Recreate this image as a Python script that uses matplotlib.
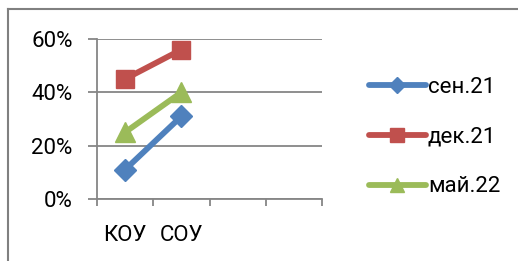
import matplotlib.pyplot as plt
from matplotlib.lines import Line2D

categories = ["КОУ", "СОУ", "", ""]
series_names = ["сен.21", "дек.21", "май.22"]
sen21 = [0.11, 0.31]
dek21 = [0.45, 0.56]
may22 = [0.25, 0.40]
y_ticks = [0.0, 0.2, 0.4, 0.6]
y_labels = ["0%", "20%", "40%", "60%"]

colors = ["#4F81BD", "#C0504D", "#9BBB59"]
markers = [("D", 11), ("s", 13.5), ("^", 14)]

plt.rcParams["font.family"] = ["Roboto", "DejaVu Sans"]

fig = plt.figure(figsize=(5.18, 2.61), dpi=100)
ax = fig.add_axes([0.187, 0.2375, 0.435, 0.6131])

values = [sen21, dek21, may22]
for vals, name, col, (mk, ms) in zip(values, series_names, colors, markers):
    x = list(range(len(vals)))
    ax.plot(x, vals, color=col, lw=4.2, marker=mk, markersize=ms,
            solid_capstyle="round", label=name, clip_on=False)

ax.set_xlim(-0.5, len(categories) - 0.5)
ax.set_ylim(0, 0.6)
ax.set_yticks(y_ticks)
ax.set_yticklabels(y_labels, fontsize=16)
ax.set_xticks([i - 0.5 for i in range(len(categories) + 1)])
ax.set_xticklabels([])
ax.set_xticks(range(len(categories)), minor=True)
ax.set_xticklabels(categories, minor=True, fontsize=16)
ax.tick_params(axis="x", which="major", length=5, width=1.3, color="#868686")
ax.tick_params(axis="x", which="minor", length=0, pad=19)
ax.tick_params(axis="y", length=6.5, width=1.3, color="#868686", pad=11)

ax.grid(axis="y", color="#868686", lw=1.3)
ax.set_axisbelow(True)
for side in ["top", "right"]:
    ax.spines[side].set_visible(False)
ax.spines["left"].set_color("#868686")
ax.spines["left"].set_linewidth(1.3)
ax.spines["bottom"].set_color("#868686")
ax.spines["bottom"].set_linewidth(1.3)

handles = [Line2D([], [], color=c, lw=4.2, marker=mk, markersize=ms * 0.75, solid_capstyle="round")
           for c, (mk, ms) in zip(colors, markers)]
fig.legend(handles, series_names, loc="center left", bbox_to_anchor=(0.695, 0.475),
           frameon=False, fontsize=16, handlelength=2.55, handletextpad=0.1,
           labelspacing=1.3, borderaxespad=0)

# outer frame (only top and left edges visible in the crop)
fig.add_artist(Line2D([8 / 518, 1], [1 - 9 / 261, 1 - 9 / 261], transform=fig.transFigure,
                      color="#808080", lw=1.5))
fig.add_artist(Line2D([8 / 518, 8 / 518], [0, 1 - 9 / 261], transform=fig.transFigure,
                      color="#808080", lw=1.5))

fig.savefig("out.png", dpi=100)
